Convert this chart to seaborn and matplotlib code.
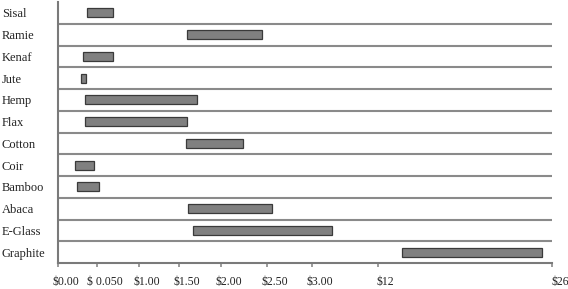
import matplotlib
matplotlib.use("Agg")
import matplotlib.pyplot as plt
import matplotlib.transforms as mtransforms
import seaborn as sns

# ===============================
# DATA (axis position units)
# ===============================
fibres = ["Sisal", "Ramie", "Kenaf", "Jute", "Hemp", "Flax", "Cotton",
          "Coir", "Bamboo", "Abaca", "E-Glass", "Graphite"]
price_low  = [0.69, 3.05, 0.59, 0.54, 0.64, 0.64, 3.03, 0.40, 0.45, 3.07, 3.19, 8.13]
price_high = [1.30, 4.82, 1.30, 0.66, 3.29, 3.05, 4.37, 0.85, 0.97, 5.06, 6.48, 11.44]

tick_labels    = ["$0.00", "$ 0.050", "$1.00", "$1.50", "$2.00", "$2.50",
                  "$3.00", "$12", "$26"]
tick_positions = [0.0, 0.92, 1.92, 2.86, 3.85, 4.94, 6.0, 7.56, 11.68]

# ===============================
# PLOT
# ===============================
sns.set_theme(style="white")
plt.rcParams["font.family"] = ["Liberation Serif", "DejaVu Serif"]

fig = plt.figure(figsize=(5.68, 2.89), dpi=100)
ax = fig.add_axes([58 / 568, 26 / 289, (552 - 58) / 568, (287 - 26) / 289])

rows = list(range(len(fibres)))
widths = [h - l for l, h in zip(price_low, price_high)]
ax.barh(rows, widths, left=price_low, height=0.42,
        color="#808080", edgecolor="#3a3a3a", linewidth=0.9, zorder=3)

# row separator lines
for r in rows[:-1]:
    ax.axhline(r + 0.5, color="#8a8a8a", linewidth=1.5, zorder=1)

ax.set_xlim(0, tick_positions[-1])
ax.set_ylim(len(fibres) - 0.5, -0.5)

ax.set_yticks(rows)
ax.set_yticklabels(fibres, fontsize=9, color="#222222", ha="left")
ax.tick_params(axis="y", length=0, pad=40.5)

ax.set_xticks(tick_positions)
ax.set_xticklabels(tick_labels, fontsize=8.5, color="#222222")
ax.tick_params(axis="x", direction="out", length=3, width=1.2,
               color="#8a8a8a", pad=6, bottom=True)
shift = mtransforms.ScaledTranslation(8 / 100, 0, fig.dpi_scale_trans)
for lab in ax.get_xticklabels():
    lab.set_transform(lab.get_transform() + shift)

for side in ["top", "right"]:
    ax.spines[side].set_visible(False)
for side in ["left", "bottom"]:
    ax.spines[side].set_color("#7a7a7a")
    ax.spines[side].set_linewidth(1.5)

fig.savefig("out.png", dpi=100)
